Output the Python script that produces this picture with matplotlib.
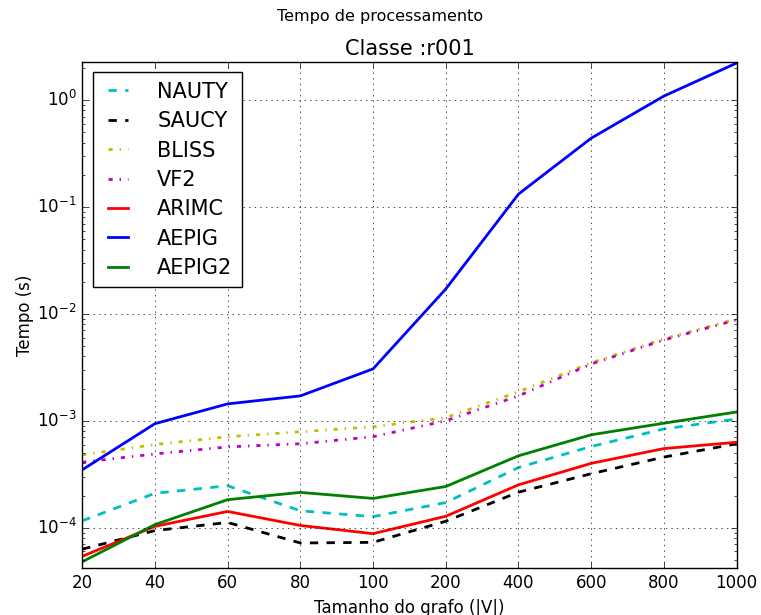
#/usr/bin/env python3

import numpy as np
import matplotlib
matplotlib.use('Agg')
import matplotlib.pyplot as plt

tamanhos = ['20', '40', '60', '80', '100', '200', '400', '600', '800', '1000']

nauty = [1.16e-4, 2.1e-4, 2.47e-4, 1.44e-4, 1.27e-4, 1.72e-4, 3.66e-4, 5.75e-4, 8.4e-4, 1.04e-3]
saucy = [6.3e-5, 9.4e-5, 1.12e-4, 7.2e-5, 7.3e-5, 1.15e-4, 2.15e-4, 3.2e-4, 4.58e-4, 6.1e-4]
bliss = [4.8e-4, 6.0e-4, 7.1e-4, 7.9e-4, 8.8e-4, 1.07e-3, 1.87e-3, 3.48e-3, 5.84e-3, 8.98e-3]
vf2 = [4.1e-4, 4.9e-4, 5.7e-4, 6.1e-4, 7.1e-4, 1.0e-3, 1.71e-3, 3.4e-3, 5.7e-3, 8.8e-3]
arimc = [5.4e-5, 1.03e-4, 1.42e-4, 1.05e-4, 8.8e-5, 1.28e-4, 2.52e-4, 4.0e-4, 5.5e-4, 6.3e-4]
aepig = [3.48e-4, 9.4e-4, 1.44e-3, 1.71e-3, 3.06e-3, 0.0171, 0.132, 0.44, 1.09, 2.22]
aepig2 = [4.8e-5, 1.07e-4, 1.83e-4, 2.14e-4, 1.88e-4, 2.43e-4, 4.71e-4, 7.4e-4, 9.5e-4, 1.21e-3]


def Graphic():
    plt.style.use('classic')
    fig = plt.figure(figsize=(7.61, 6.15), dpi=100, facecolor='white')
    ax = fig.add_axes([0.108, 0.0764, 0.860, 0.8228])
    x = np.arange(len(tamanhos))
    ax.plot(x, nauty, '--c', lw=2, label='NAUTY')
    ax.plot(x, saucy, '--k', lw=2, label='SAUCY')
    ax.plot(x, bliss, '-.y', lw=2, label='BLISS')
    ax.plot(x, vf2, '-.m', lw=2, label='VF2')
    ax.plot(x, arimc, '-r', lw=2, label='ARIMC')
    ax.plot(x, aepig, '-b', lw=2, label='AEPIG')
    ax.plot(x, aepig2, '-g', lw=2, label='AEPIG2')
    ax.set_yscale('log')
    ax.set_ylim(4.2e-5, 2.27)
    ax.set_xlim(0, len(tamanhos) - 1)
    ax.set_xticks(x)
    ax.set_xticklabels(tamanhos)
    ax.tick_params(labelsize=12)
    ax.grid(True)
    # legenda maior, parecida com a original
    ax.legend(loc='upper left', fontsize=15, handlelength=1.55,
              handletextpad=1.1, labelspacing=0.45, borderpad=0.45)
    ax.set_xlabel('Tamanho do grafo (|V|)', fontsize=12)
    ax.set_ylabel('Tempo (s)', fontsize=12, labelpad=2)
    ax.set_title('Classe :r001', fontsize=15)
    fig.suptitle('Tempo de processamento', fontsize=11.5, y=0.985)
    fig.savefig('out.png', dpi=100, facecolor='white')


if __name__ == "__main__":
    Graphic()
